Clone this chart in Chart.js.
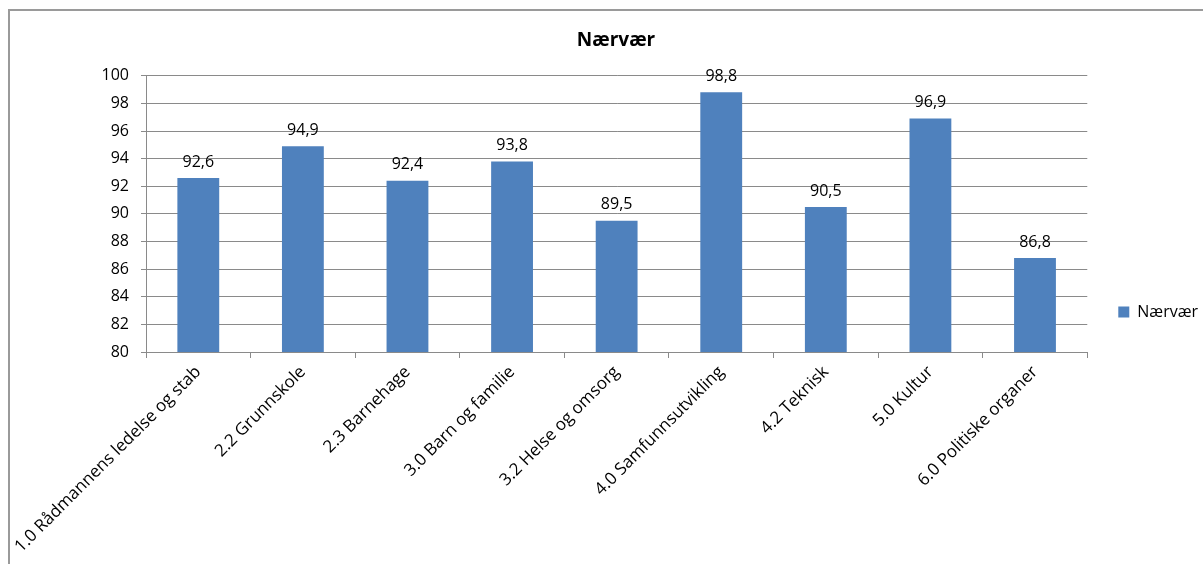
<!DOCTYPE html>
<html>
<head>
<meta charset="utf-8">
<script src="https://cdn.jsdelivr.net/npm/chart.js@4"></script>
<style>
    body { margin: 0; background: #fff; overflow: hidden; }
    #frame { position: absolute; left: 8px; top: 9px; width: 1400px; height: 800px; border: 2px solid #9a9a9a; }
    /* canvas runs a bit below the window, like the cut-off chart frame */
    #wrap { position: absolute; left: 0; top: 0; width: 1203px; height: 624px; }
</style>
</head>
<body>
<div id="frame"></div>
<div id="wrap"><canvas id="chart"></canvas></div>
<script>
/* Nærvær per enhet */

const categories = [
    "1.0 Rådmannens ledelse og stab",
    "2.2 Grunnskole",
    "2.3 Barnehage",
    "3.0 Barn og familie",
    "3.2 Helse og omsorg",
    "4.0 Samfunnsutvikling",
    "4.2 Teknisk",
    "5.0 Kultur",
    "6.0 Politiske organer"
];
const naervaer = [92.6, 94.9, 92.4, 93.8, 89.5, 98.8, 90.5, 96.9, 86.8];
const yTicks = [80, 82, 84, 86, 88, 90, 92, 94, 96, 98, 100];

const FONT = "'Open Sans', sans-serif";

/* Writes the value above every bar, with comma as decimal mark */
const valueLabels = {
    id: "valueLabels",
    afterDatasetsDraw(chart) {
        const ctx = chart.ctx;
        const meta = chart.getDatasetMeta(0);
        ctx.save();
        ctx.font = "16px " + FONT;
        ctx.fillStyle = "#000";
        ctx.textAlign = "center";
        ctx.textBaseline = "bottom";
        meta.data.forEach((bar, i) => {
            ctx.fillText(naervaer[i].toFixed(1).replace(".", ","), bar.x, bar.y - 8);
        });
        ctx.restore();
    }
};

new Chart("chart", {
    type: "bar",
    data: {
        labels: categories,
        datasets: [{
            label: "Nærvær",
            data: naervaer,
            backgroundColor: "#4F81BD",
            borderWidth: 0,
            categoryPercentage: 0.8,
            barPercentage: 0.5,
        }],
    },
    options: {
        responsive: true,
        maintainAspectRatio: false,
        animation: false,
        layout: { padding: { left: 24, top: 0, right: -5, bottom: 0 } },
        plugins: {
            title: {
                display: true,
                text: "Nærvær",
                color: "#000",
                font: { family: FONT, size: 19, weight: "bold", lineHeight: 1.2 },
                padding: { top: 29, bottom: 24 },
            },
            tooltip: { enabled: false },
            legend: {
                position: "right",
                labels: {
                    boxWidth: 11,
                    boxHeight: 11,
                    padding: 31,
                    color: "#000",
                    font: { family: FONT, size: 16 },
                },
            },
        },
        scales: {
            x: {
                grid: {
                    offset: true,
                    drawOnChartArea: false,
                    color: "#8a8a8a",
                    tickLength: 6,
                },
                border: { color: "#8a8a8a" },
                ticks: {
                    maxRotation: 45,
                    minRotation: 45,
                    padding: 4,
                    color: "#000",
                    font: { family: FONT, size: 17 },
                },
                afterFit: (scale) => { scale.height = 272; },
            },
            y: {
                min: 80,
                max: 100,
                afterBuildTicks: (scale) => { scale.ticks = yTicks.map((v) => ({ value: v })); },
                grid: { color: "#8a8a8a", tickLength: 5 },
                border: { color: "#8a8a8a" },
                ticks: {
                    padding: 12,
                    color: "#000",
                    font: { family: FONT, size: 16 },
                },
                afterFit: (scale) => { scale.width = 122; },
            },
        },
    },
    plugins: [valueLabels],
});
</script>
</body>
</html>
